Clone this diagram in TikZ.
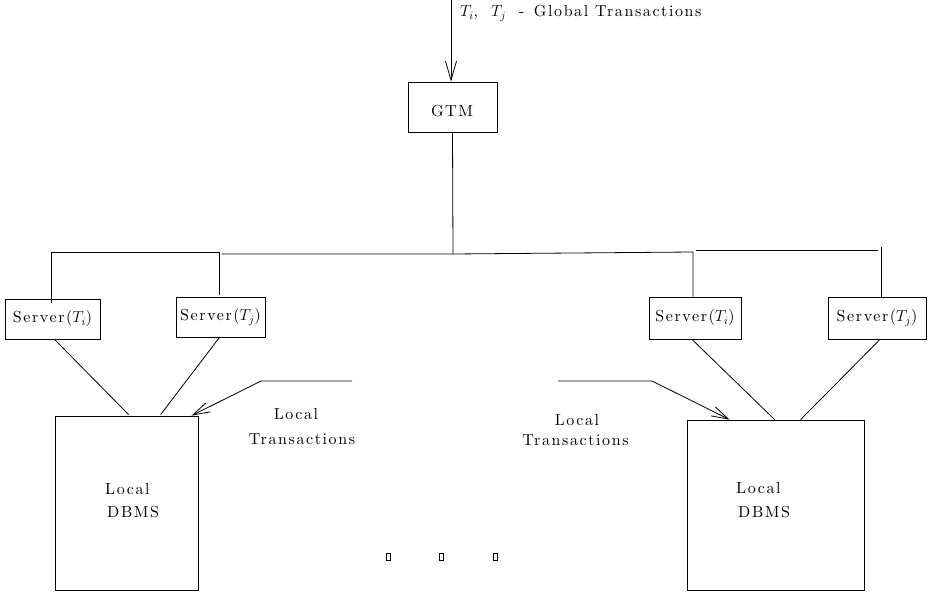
\RequirePackage{fix-cm}
\documentclass[tikz,border=0pt]{standalone}
\usepackage{fontspec}
\usetikzlibrary{arrows.meta,calc}
% widely tracked roman face for all labels
\newfontfamily\spaced{lmroman10-regular.otf}[LetterSpace=10]

\begin{document}
\begin{tikzpicture}[x=1pt,y=-1pt,
  every node/.style={font=\spaced\fontsize{16}{19}\selectfont},
  box/.style={draw,line width=0.8pt,inner sep=0pt},
  lbl/.style={inner sep=0pt},
  dotbox/.style={draw,line width=0.8pt,inner sep=0pt,minimum width=4pt,minimum height=7pt},
  wire/.style={line width=0.8pt},
  bigbarb/.style={-{Straight Barb[length=19pt,width=11pt,line width=0.8pt]}},
  barb/.style={-{Straight Barb[length=17pt,width=10pt,line width=0.8pt]}}]

\useasboundingbox[fill=white] (0,0) rectangle (929,593);

% global transaction manager
\node[box,minimum width=89pt,minimum height=50pt] (gtm) at (452.5,107) {};
\node[lbl,anchor=base] (gtmtext) at (452,117) {GTM};
\coordinate (in) at (451,0);
\draw[wire,bigbarb] (in) -- (in |- gtm.north);
\node[lbl,anchor=base west] (glabel) at (460,17)
  {$T_i$,\hspace{13pt}$T_j$\hspace{13pt}-\hspace{9.5pt}Global Transactions};

% servers
\node[box,minimum width=95pt,minimum height=40pt] (s1) at (52.5,319) {Server($T_i$)};
\node[box,minimum width=89pt,minimum height=40pt] (s2) at (220.5,317) {Server($T_j$)};
\node[box,minimum width=92pt,minimum height=42pt] (s3) at (695,318) {Server($T_i$)};
\node[box,minimum width=98pt,minimum height=42pt] (s4) at (877,318) {Server($T_j$)};

% local database systems
\node[box,minimum width=143pt,minimum height=174pt] (db1) at (126.5,503) {};
\node[box,minimum width=177pt,minimum height=170pt] (db2) at (775.5,505) {};
\node[lbl,anchor=base west] (db1a) at (105,494) {Local};
\node[lbl,anchor=base west] (db1b) at (107,517) {DBMS};
\node[lbl,anchor=base west] (db2a) at (736,493) {Local};
\node[lbl,anchor=base west] (db2b) at (738,517) {DBMS};

% distribution bus from the GTM to the servers
\coordinate (hub) at (453,254);
\coordinate (b1) at (51,252);
\coordinate (b2) at (219,252);
\coordinate (b3) at (222,254);
\coordinate (c1) at (693,252);
\coordinate (c2) at (696,250);
\coordinate (c3) at (878,250);
\coordinate (c4) at (881,247);
\draw[wire] (gtm.south) -- (hub);
\draw[wire] (b2) -- (b1) -- ($(b1 |- s1.north)+(0,4)$);
\draw[wire] (b2) -- ($(b2 |- s2.north)+(0,-2)$);
\draw[wire] (b3) -- (hub) -- (c1) -- (c1 |- s3.north);
\draw[wire] (c2) -- (c3);
\draw[wire] (c4) -- (c4 |- s4.north);

% servers to local DBMS
\draw[wire] ($(s1.south)+(2,0)$) -- ($(db1.north west)+(74,-1)$);
\draw[wire] ($(s2.south)+(-1,0)$) -- ($(db1.north west)+(106,-1)$);
\draw[wire] ($(s3.south)+(-3,0)$) -- ($(db2.north west)+(88,0)$);
\draw[wire] ($(s4.south)+(3,0)$) -- ($(db2.north west)+(114,0)$);

% local transactions
\coordinate (la) at (352,381);
\coordinate (lb) at (261,381);
\draw[wire,barb] (la) -- (lb) -- ($(db1.north west)+(137,0)$);
\node[lbl,anchor=base] (lt1a) at (296,420) {Local};
\node[lbl,anchor=base] (lt1b) at (302,444) {Transactions};

\coordinate (ra) at (558,381);
\coordinate (rb) at (652,381);
\draw[wire,barb] (ra) -- (rb) -- ($(db2.north west)+(43,0)$);
\node[lbl,anchor=base] (lt2a) at (577,425) {Local};
\node[lbl,anchor=base] (lt2b) at (575.5,446) {Transactions};

% ellipsis between the sites
\node[dotbox] (d1) at (388.5,557) {};
\node[dotbox] (d2) at (441,557) {};
\node[dotbox] (d3) at (495.5,557) {};
\end{tikzpicture}
\end{document}
